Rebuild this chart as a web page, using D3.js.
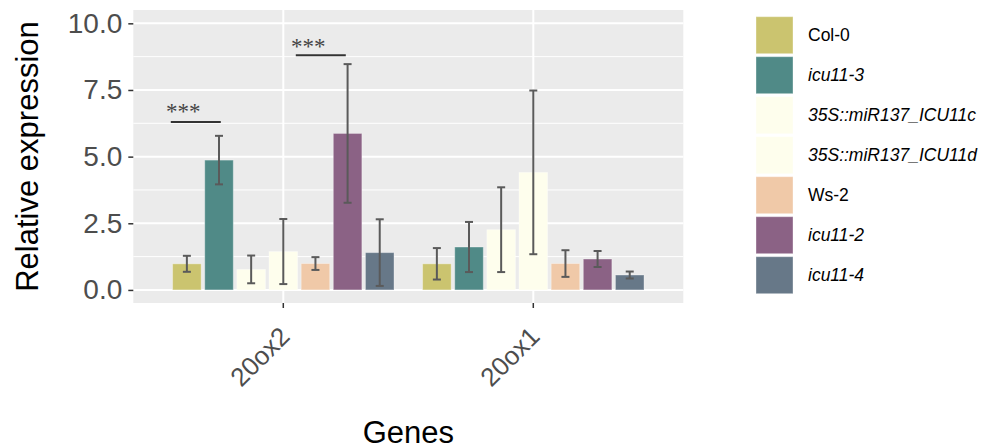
<!DOCTYPE html>
<html>
<head>
<meta charset="utf-8">
<script src="https://cdn.jsdelivr.net/npm/d3@7"></script>
<style>
  body { margin: 0; background: #fff; }
  svg { font-family: "Liberation Sans", Arial, sans-serif; }
</style>
</head>
<body>
<div id="chart"></div>
<script>
// data
var genes = ["20ox2", "20ox1"];
var genotypes = ["Col-0", "icu11-3", "35S::miR137_ICU11c", "35S::miR137_ICU11d", "Ws-2", "icu11-2", "icu11-4"];
var italicLabel = [false, true, true, true, false, true, true];
var colors = ["#cbc46f", "#508a87", "#fefeed", "#fefeed", "#f0c9a8", "#8b6285", "#677888"];
var mean20ox2 = [0.98, 4.87, 0.77, 1.44, 0.99, 5.87, 1.40];
var err20ox2  = [0.30, 0.91, 0.52, 1.22, 0.24, 2.60, 1.25];
var mean20ox1 = [0.98, 1.61, 2.26, 4.41, 0.99, 1.16, 0.56];
var err20ox1  = [0.59, 0.94, 1.59, 3.07, 0.50, 0.30, 0.13];
var yTicks = [0, 2.5, 5, 7.5, 10];
var sigX1 = [0.55, 1.05], sigX2 = [0.75, 1.25], sigY = [6.3, 8.8];
var sigTextX = [0.6, 1.1], sigTextY = [6.4, 8.85], sigLabel = ["***", "***"];

var W = 989, H = 448,
    pLeft = 133.3, pRight = 683.3, pTop = 10, pBottom = 303;

var rows = [];
genes.forEach(function(g, gi) {
  var m = gi === 0 ? mean20ox2 : mean20ox1,
      e = gi === 0 ? err20ox2 : err20ox1;
  genotypes.forEach(function(t, ti) {
    rows.push({gene: g, type: t, i: ti, mean: m[ti], err: e[ti]});
  });
});

var svg = d3.select("#chart").append("svg")
  .attr("width", W)
  .attr("height", H);

var y = d3.scaleLinear().domain([-0.49, 10.5]).range([pBottom, pTop]);
var x = d3.scaleBand().domain(genes).range([pLeft, pRight])
  .paddingInner(0.1).paddingOuter(0.15);
var xc = d3.scaleLinear().domain([0.4, 2.6]).range([pLeft, pRight]);
var xi = d3.scaleBand().domain(genotypes).range([0, x.bandwidth()]);
var barW = xi.step() * 0.8 / 0.9;

// panel
svg.append("rect")
  .attr("x", pLeft).attr("y", pTop)
  .attr("width", pRight - pLeft).attr("height", pBottom - pTop)
  .attr("fill", "#ebebeb");

var minor = [1.25, 3.75, 6.25, 8.75];
svg.selectAll(".minor").data(minor).enter().append("line")
  .attr("x1", pLeft).attr("x2", pRight)
  .attr("y1", function(d) { return y(d); })
  .attr("y2", function(d) { return y(d); })
  .attr("stroke", "#fff").attr("stroke-width", 1);
svg.selectAll(".major").data(yTicks).enter().append("line")
  .attr("x1", pLeft).attr("x2", pRight)
  .attr("y1", function(d) { return y(d); })
  .attr("y2", function(d) { return y(d); })
  .attr("stroke", "#fff").attr("stroke-width", 2);
svg.selectAll(".vgrid").data(genes).enter().append("line")
  .attr("x1", function(d) { return x(d) + x.bandwidth() / 2; })
  .attr("x2", function(d) { return x(d) + x.bandwidth() / 2; })
  .attr("y1", pTop).attr("y2", pBottom)
  .attr("stroke", "#fff").attr("stroke-width", 2);

// bars
function cx(d) { return x(d.gene) + xi(d.type) + xi.step() / 2; }
svg.selectAll(".bar").data(rows).enter().append("rect")
  .attr("x", function(d) { return cx(d) - barW / 2; })
  .attr("y", function(d) { return y(d.mean); })
  .attr("width", barW)
  .attr("height", function(d) { return y(0) - y(d.mean); })
  .attr("fill", function(d) { return colors[d.i]; })
  .attr("stroke", "#ffffff").attr("stroke-opacity", 0.35).attr("stroke-width", 1);

// error bars
var eb = svg.selectAll(".err").data(rows).enter().append("g")
  .attr("stroke", "#5a5a5a").attr("stroke-width", 2);
eb.append("line")
  .attr("x1", cx).attr("x2", cx)
  .attr("y1", function(d) { return y(d.mean + d.err); })
  .attr("y2", function(d) { return y(d.mean - d.err); });
eb.append("line")
  .attr("x1", function(d) { return cx(d) - 4; })
  .attr("x2", function(d) { return cx(d) + 4; })
  .attr("y1", function(d) { return y(d.mean + d.err); })
  .attr("y2", function(d) { return y(d.mean + d.err); });
eb.append("line")
  .attr("x1", function(d) { return cx(d) - 4; })
  .attr("x2", function(d) { return cx(d) + 4; })
  .attr("y1", function(d) { return y(d.mean - d.err); })
  .attr("y2", function(d) { return y(d.mean - d.err); });

// significance
sigY.forEach(function(v, k) {
  svg.append("line")
    .attr("x1", xc(sigX1[k])).attr("x2", xc(sigX2[k]))
    .attr("y1", y(v)).attr("y2", y(v))
    .attr("stroke", "#333").attr("stroke-width", 2);
  svg.append("text")
    .attr("x", xc(sigTextX[k])).attr("y", y(sigTextY[k]))
    .attr("text-anchor", "middle")
    .attr("font-family", "'Liberation Serif', 'Times New Roman', serif")
    .attr("font-size", 23).attr("fill", "#444")
    .text(sigLabel[k]);
});

// y axis
var yAxis = svg.append("g")
  .attr("transform", "translate(" + pLeft + ",0)")
  .call(d3.axisLeft(y).tickValues(yTicks).tickSize(5).tickPadding(6)
    .tickFormat(d3.format(".1f")));
yAxis.select(".domain").remove();
yAxis.selectAll("line").attr("stroke", "#333").attr("stroke-width", 1.5);
yAxis.selectAll("text").attr("font-size", 28).attr("fill", "#4d4d4d")
  .attr("font-family", "'Liberation Sans', Arial, sans-serif");

// x axis
var xAxis = svg.append("g")
  .attr("transform", "translate(0," + pBottom + ")")
  .call(d3.axisBottom(x).tickSize(5).tickFormat(""));
xAxis.select(".domain").remove();
xAxis.selectAll("line").attr("stroke", "#333").attr("stroke-width", 1.5);
svg.selectAll(".xlab").data(genes).enter().append("text")
  .attr("transform", function(d) {
    return "translate(" + (x(d) + x.bandwidth() / 2 + 8) + "," + (pBottom + 35) + ") rotate(-45)";
  })
  .attr("text-anchor", "end")
  .attr("font-size", 26).attr("fill", "#4d4d4d")
  .text(function(d) { return d; });

// titles
svg.append("text")
  .attr("transform", "translate(38," + ((pTop + pBottom) / 2) + ") rotate(-90)")
  .attr("text-anchor", "middle")
  .attr("font-size", 31).attr("fill", "#000")
  .text("Relative expression");
svg.append("text")
  .attr("x", (pLeft + pRight) / 2).attr("y", 443)
  .attr("text-anchor", "middle")
  .attr("font-size", 31).attr("fill", "#000")
  .text("Genes");

// legend
var lg = svg.selectAll(".leg").data(genotypes).enter().append("g")
  .attr("transform", function(d, i) { return "translate(756," + (16.7 + i * 40) + ")"; });
lg.append("rect")
  .attr("width", 37).attr("height", 37)
  .attr("fill", function(d, i) { return colors[i]; })
  .attr("stroke", "#ffffff").attr("stroke-opacity", 0.35);
lg.append("text")
  .attr("x", 52).attr("y", 18.5)
  .attr("dominant-baseline", "central")
  .attr("font-size", 17.5)
  .attr("font-style", function(d, i) { return italicLabel[i] ? "italic" : "normal"; })
  .attr("fill", "#000")
  .text(function(d) { return d; });
</script>
</body>
</html>
